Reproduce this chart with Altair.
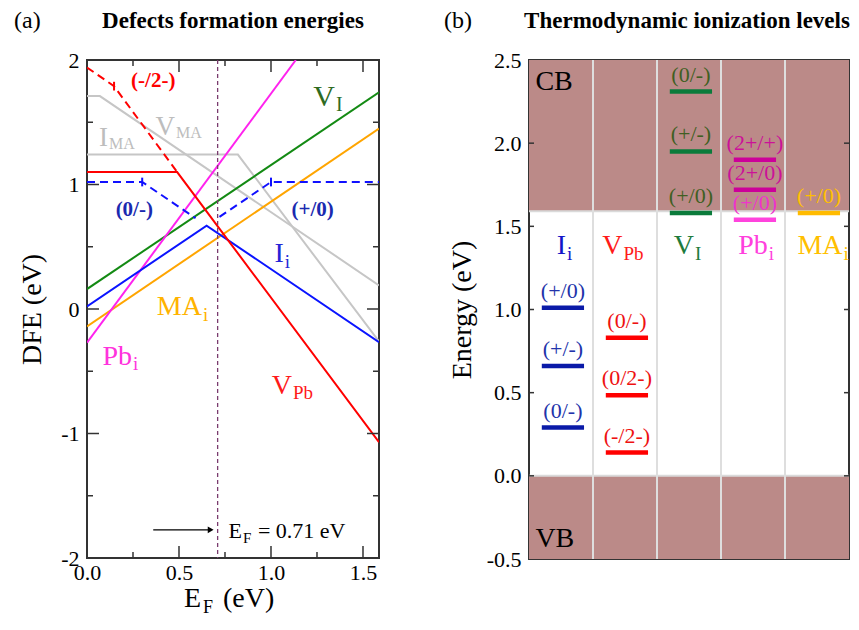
import altair as alt
import pandas as pd

FONT = "Liberation Serif"
MINUS = "replace(datum.label, '\u2212', '-')"

# ================= panel (a): defect formation energies =================
EF_MIN, EF_MAX = 0.0, 1.587
DFE_MIN, DFE_MAX = -2.0, 2.0
xa_label_vals = [0.0, 0.5, 1.0, 1.5]
ya_label_vals = [-2, -1, 0, 1, 2]
xa_major = [0.5, 1.0, 1.5]
xa_minor = [0.25, 0.75, 1.25]
ya_major = [-1, 0, 1]
ya_minor = [-1.5, -0.5, 0.5, 1.5]

I_MA_x = [0.0, 0.82, 1.587]
I_MA_y = [1.24, 1.24, -0.26]
V_MA_x = [0.0, 0.07, 1.587]
V_MA_y = [1.71, 1.71, 0.19]
V_I_x = [0.0, 1.587]
V_I_y = [0.16, 1.74]
MA_i_x = [0.0, 1.587]
MA_i_y = [-0.14, 1.45]
Pb_i_x = [0.0, 1.135]
Pb_i_y = [-0.27, 2.0]
I_i_x = [0.0, 0.65, 1.587]
I_i_y = [0.02, 0.67, -0.267]
I_i_dash1_x = [0.0, 0.30, 0.59]
I_i_dash1_y = [1.02, 1.02, 0.73]
I_i_dash2_x = [0.72, 1.00, 1.587]
I_i_dash2_y = [0.74, 1.02, 1.02]
V_Pb_x = [0.0, 0.49, 1.587]
V_Pb_y = [1.10, 1.10, -1.07]
V_Pb_dash_x = [0.0, 0.147, 0.49]
V_Pb_dash_y = [1.94, 1.79, 1.10]

trans_x = [0.30, 1.00, 0.147]
trans_y = [1.02, 1.02, 1.79]

EF_value = 0.71
arrow_x = [0.36, 0.69]
arrow_y = -1.774

a_bold_text = ["(-/2-)", "(0/-)", "(+/0)"]
a_bold_x = [0.36, 0.257, 1.226]
a_bold_y = [1.78, 0.75, 0.75]

a_lab_main = ["V", "V", "I", "I", "MA", "Pb", "V"]
a_lab_sub = ["I", "MA", "MA", "i", "i", "i", "Pb"]
a_lab_x = [1.348, 0.478, 0.114, 1.07, 0.625, 0.245, 1.114]
a_lab_y = [1.63, 1.395, 1.31, 0.38, -0.05, -0.45, -0.68]

ef_text_x = 0.842
ef_text_y = -1.84

# ================= panel (b): thermodynamic ionization levels =================
E_MIN, E_MAX = -0.5, 2.5
yb_label_vals = [-0.5, 0.0, 0.5, 1.0, 1.5, 2.0, 2.5]
yb_ticks = [0.0, 0.5, 1.0, 1.5, 2.0]
N_COLS = 5
col_sep = [1, 2, 3, 4]
CBM = 1.59
band_lo = [CBM, -0.5]
band_hi = [2.5, 0.0]
band_edges = [CBM, 0.0]

lev_col = [0, 0, 0, 1, 1, 1, 2, 2, 2, 3, 3, 3, 4]
lev_E = [1.01, 0.66, 0.29, 0.83, 0.485, 0.14, 2.31, 1.95, 1.58, 1.90, 1.72, 1.54, 1.58]
lev_text = ["(+/0)", "(+/-)", "(0/-)", "(0/-)", "(0/2-)", "(-/2-)",
            "(0/-)", "(+/-)", "(+/0)", "(2+/+)", "(2+/0)", "(+/0)", "(+/0)"]

b_lab_main = ["I", "V", "V", "Pb", "MA"]
b_lab_sub = ["i", "Pb", "I", "i", "i"]
b_lab_x = [0.58, 1.46, 2.577, 3.73, 4.9]
b_lab_y = [1.335, 1.335, 1.335, 1.335, 1.335]

band_text = ["CB", "VB"]
band_text_x = [0.1, 0.1]
band_text_y = [2.32, -0.43]

# ================= styles =================
W_A, H_A = 292, 498
W_B, H_B = 320, 499
TOP = 51
GRAY = "#c6c6c6"
BROWN = "#bb8a88"
a_lab_color = ["#2e6b1f", "#bdbdbd", "#bdbdbd", "#2424d6", "#ffb300", "#ff33dd", "#ff1a1a"]
a_lab_size = [30, 27, 27, 28, 28, 28, 28]
a_lab_subsize = [20, 16, 16, 19, 19, 19, 19]
a_lab_subdy = [5, 3, 3, 6, 6, 5, 5]
a_bold_color = ["#ff0000", "#1a2ab0", "#1a2ab0"]
trans_color = ["#1010ff", "#1010ff", "#ff0000"]
lev_line_color = ["#0a1aa8"] * 3 + ["#ff0000"] * 3 + ["#0b7b3b"] * 3 + ["#cc0099", "#cc0099", "#ff44dd"] + ["#ffbb00"]
lev_text_color = ["#2233aa"] * 3 + ["#ee1111"] * 3 + ["#3f5f22"] * 3 + ["#cc1199", "#cc1199", "#ee33cc"] + ["#ffbf00"]
b_lab_color = ["#1414c8", "#ff1a1a", "#1e7b3c", "#ff40dd", "#ffbf00"]

# ================= panel (a) chart =================
xa_scale = alt.Scale(domain=[EF_MIN, EF_MAX], nice=False, zero=False)
ya_scale = alt.Scale(domain=[DFE_MIN, DFE_MAX], nice=False, zero=False)
xa_axis = alt.Axis(values=xa_label_vals, format=".1f", labelExpr=MINUS, labelFont=FONT,
                   labelFontSize=22, labelColor="black", labelFlush=False, labelPadding=4,
                   labelOverlap=False, ticks=False, tickSize=0, domain=False, grid=False, title=None)
ya_axis = alt.Axis(values=ya_label_vals, format="d", labelExpr=MINUS, labelFont=FONT,
                   labelFontSize=22, labelColor="black", labelFlush=False, labelPadding=8,
                   labelOverlap=False, ticks=False, tickSize=0, domain=False, grid=False,
                   title="DFE (eV)", titleFont=FONT, titleFontSize=28, titleFontWeight="normal",
                   titleColor="black", titlePadding=14)


def XA(f="x"):
    return alt.X(f, type="quantitative", scale=xa_scale, axis=xa_axis)


def YA(f="y"):
    return alt.Y(f, type="quantitative", scale=ya_scale, axis=ya_axis)


def line_a(xs, ys, color, dashed=False):
    df = pd.DataFrame({"x": xs, "y": ys, "o": list(range(len(xs)))})
    kw = dict(color=color, strokeWidth=2, clip=True)
    if dashed:
        kw["strokeDash"] = [8, 5]
    return alt.Chart(df).mark_line(**kw).encode(x=XA(), y=YA(), order="o:Q")


def px_text(txt, x, y, **mk):
    return alt.Chart(pd.DataFrame({"t": [txt]})).mark_text(font=FONT, **mk).encode(
        x=alt.value(x), y=alt.value(y), text="t:N")


def side_ticks(vals, side, length, W, H, XF, YF):
    df = pd.DataFrame({"x": vals, "y": vals})
    m = alt.Chart(df).mark_rule(color="#333333", strokeWidth=1.5)
    if side == "bottom":
        return m.encode(x=XF(), y=alt.value(H), y2=alt.value(H - length))
    if side == "top":
        return m.encode(x=XF(), y=alt.value(0), y2=alt.value(length))
    if side == "left":
        return m.encode(y=YF(), x=alt.value(0), x2=alt.value(length))
    return m.encode(y=YF(), x=alt.value(W - length), x2=alt.value(W))


layers_a = [
    line_a(I_MA_x, I_MA_y, GRAY),
    line_a(V_MA_x, V_MA_y, GRAY),
    line_a(V_I_x, V_I_y, "#138a13"),
    line_a(MA_i_x, MA_i_y, "#ffa500"),
    line_a(Pb_i_x, Pb_i_y, "#ff22ee"),
    line_a(I_i_x, I_i_y, "#0a14ff"),
    line_a(I_i_dash1_x, I_i_dash1_y, "#1010ff", True),
    line_a(I_i_dash2_x, I_i_dash2_y, "#1010ff", True),
    line_a(V_Pb_x, V_Pb_y, "#ff0000"),
    line_a(V_Pb_dash_x, V_Pb_dash_y, "#ff0000", True),
]

trans_df = pd.DataFrame({"x": trans_x, "y": trans_y, "c": trans_color})
layers_a.append(
    alt.Chart(trans_df).transform_calculate(lo="datum.y - 0.035", hi="datum.y + 0.035")
    .mark_rule(strokeWidth=2)
    .encode(x=XA(), y=YA("lo"), y2="hi:Q", color=alt.Color("c:N", scale=None))
)

layers_a.append(
    alt.Chart(pd.DataFrame({"x": [EF_value]})).mark_rule(color="#7a3b6e", strokeDash=[4, 3], strokeWidth=1.3)
    .encode(x=XA())
)

arrow_df = pd.DataFrame({"x": [arrow_x[0]], "x2": [arrow_x[1] - 0.02], "y": [arrow_y]})
layers_a.append(alt.Chart(arrow_df).mark_rule(color="black", strokeWidth=1.3).encode(x=XA(), x2="x2:Q", y=YA()))
head_df = pd.DataFrame({"x": [arrow_x[1] - 0.018], "y": [arrow_y]})
layers_a.append(alt.Chart(head_df).mark_point(shape="triangle-right", filled=True, size=45, color="black", opacity=1)
                .encode(x=XA(), y=YA()))

bold_df = pd.DataFrame({"x": a_bold_x, "y": a_bold_y, "t": a_bold_text, "c": a_bold_color})
layers_a.append(alt.Chart(bold_df).mark_text(font=FONT, fontSize=21, fontWeight="bold", baseline="alphabetic")
                .encode(x=XA(), y=YA(), text="t:N", color=alt.Color("c:N", scale=None)))

for i in range(len(a_lab_main)):
    d = pd.DataFrame({"x": [a_lab_x[i]], "y": [a_lab_y[i]], "m": [a_lab_main[i]], "s": [a_lab_sub[i]]})
    layers_a.append(alt.Chart(d).mark_text(font=FONT, fontSize=a_lab_size[i], align="right", baseline="alphabetic",
                                           color=a_lab_color[i]).encode(x=XA(), y=YA(), text="m:N"))
    layers_a.append(alt.Chart(d).mark_text(font=FONT, fontSize=a_lab_subsize[i], align="left", baseline="alphabetic",
                                           dx=1, dy=a_lab_subdy[i], color=a_lab_color[i])
                    .encode(x=XA(), y=YA(), text="s:N"))

ef_df = pd.DataFrame({"x": [ef_text_x], "y": [ef_text_y], "a": ["E"], "b": ["F"], "c": [f"= {EF_value:.2f} eV"]})
layers_a.append(alt.Chart(ef_df).mark_text(font=FONT, fontSize=22, align="right", baseline="alphabetic", color="black")
                .encode(x=XA(), y=YA(), text="a:N"))
layers_a.append(alt.Chart(ef_df).mark_text(font=FONT, fontSize=15, align="left", baseline="alphabetic", dx=1, dy=5,
                                           color="black").encode(x=XA(), y=YA(), text="b:N"))
layers_a.append(alt.Chart(ef_df).mark_text(font=FONT, fontSize=22, align="left", baseline="alphabetic", dx=16,
                                           color="black").encode(x=XA(), y=YA(), text="c:N"))

for vals, ln in [(xa_major, 12), (xa_minor, 6)]:
    layers_a.append(side_ticks(vals, "bottom", ln, W_A, H_A, XA, YA))
    layers_a.append(side_ticks(vals, "top", ln, W_A, H_A, XA, YA))
for vals, ln in [(ya_major, 12), (ya_minor, 6)]:
    layers_a.append(side_ticks(vals, "left", ln, W_A, H_A, XA, YA))
    layers_a.append(side_ticks(vals, "right", ln, W_A, H_A, XA, YA))

# titles and x-axis title with subscript
layers_a.append(px_text("(a)", -73, -TOP, fontSize=24, align="left", baseline="top", color="black"))
layers_a.append(px_text("Defects formation energies", W_A / 2, -TOP + 1, fontSize=23, fontWeight="bold",
                        align="center", baseline="top", color="black"))
layers_a.append(px_text("E", 114, 547, fontSize=28, align="right", baseline="alphabetic", color="black"))
layers_a.append(px_text("F", 116, 553, fontSize=18, align="left", baseline="alphabetic", color="black"))
layers_a.append(px_text("(eV)", 136, 547, fontSize=28, align="left", baseline="alphabetic", color="black"))

panel_a = alt.layer(*layers_a).properties(width=W_A, height=H_A)

# ================= panel (b) chart =================
xb_scale = alt.Scale(domain=[0, N_COLS], nice=False, zero=False)
yb_scale = alt.Scale(domain=[E_MIN, E_MAX], nice=False, zero=False)
yb_axis = alt.Axis(values=yb_label_vals, format=".1f", labelExpr=MINUS, labelFont=FONT,
                   labelFontSize=22, labelColor="black", labelFlush=False, labelPadding=8,
                   labelOverlap=False, ticks=False, tickSize=0, domain=False, grid=False,
                   title="Energy (eV)", titleFont=FONT, titleFontSize=28, titleFontWeight="normal",
                   titleColor="black", titlePadding=10)


def XB(f="x"):
    return alt.X(f, type="quantitative", scale=xb_scale, axis=None)


def YB(f="y"):
    return alt.Y(f, type="quantitative", scale=yb_scale, axis=yb_axis)


layers_b = []
band_df = pd.DataFrame({"y": band_lo, "y2": band_hi, "x": [0, 0], "x2": [N_COLS, N_COLS]})
layers_b.append(alt.Chart(band_df).mark_rect(color=BROWN).encode(x=XB(), x2="x2:Q", y=YB(), y2="y2:Q"))
layers_b.append(alt.Chart(pd.DataFrame({"y": band_edges})).mark_rule(color="#dadada", strokeWidth=2)
                .encode(y=YB()))
layers_b.append(alt.Chart(pd.DataFrame({"x": col_sep})).mark_rule(color="#dedede", strokeWidth=2)
                .encode(x=XB()))

lev_df = pd.DataFrame({"col": lev_col, "y": lev_E, "t": lev_text, "lc": lev_line_color, "tc": lev_text_color})
lev_df["x"] = lev_df["col"] + 0.2
lev_df["x2"] = lev_df["col"] + 0.86
lev_df["xc"] = lev_df["col"] + 0.53
layers_b.append(alt.Chart(lev_df).mark_rule(strokeWidth=4.5)
                .encode(x=XB(), x2="x2:Q", y=YB(), color=alt.Color("lc:N", scale=None)))
layers_b.append(alt.Chart(lev_df).mark_text(font=FONT, fontSize=22, baseline="alphabetic", dy=-10)
                .encode(x=XB("xc"), y=YB(), text="t:N", color=alt.Color("tc:N", scale=None)))

for i in range(len(b_lab_main)):
    d = pd.DataFrame({"x": [b_lab_x[i]], "y": [b_lab_y[i]], "m": [b_lab_main[i]], "s": [b_lab_sub[i]]})
    layers_b.append(alt.Chart(d).mark_text(font=FONT, fontSize=28, align="right", baseline="alphabetic",
                                           color=b_lab_color[i]).encode(x=XB(), y=YB(), text="m:N"))
    layers_b.append(alt.Chart(d).mark_text(font=FONT, fontSize=19, align="left", baseline="alphabetic",
                                           dx=1, dy=6, color=b_lab_color[i]).encode(x=XB(), y=YB(), text="s:N"))

bt_df = pd.DataFrame({"x": band_text_x, "y": band_text_y, "t": band_text})
layers_b.append(alt.Chart(bt_df).mark_text(font=FONT, fontSize=28, align="left", baseline="alphabetic", color="black")
                .encode(x=XB(), y=YB(), text="t:N"))

layers_b.append(side_ticks(yb_ticks, "left", 5, W_B, H_B, XB, YB))
layers_b.append(side_ticks(yb_ticks, "right", 5, W_B, H_B, XB, YB))

layers_b.append(px_text("(b)", -85, -TOP, fontSize=24, align="left", baseline="top", color="black"))
layers_b.append(px_text("Thermodynamic ionization levels", 158, -TOP + 1, fontSize=23, fontWeight="bold",
                        align="center", baseline="top", color="black"))

panel_b = alt.layer(*layers_b).properties(width=W_B, height=H_B)

chart = (
    alt.hconcat(panel_a, panel_b, spacing=62)
    .properties(padding={"left": 5, "top": 0, "right": 0, "bottom": 0})
    .configure_view(stroke="#333333", strokeWidth=2)
)

chart.save("out.html", embed_options={"renderer": "svg", "actions": False})
